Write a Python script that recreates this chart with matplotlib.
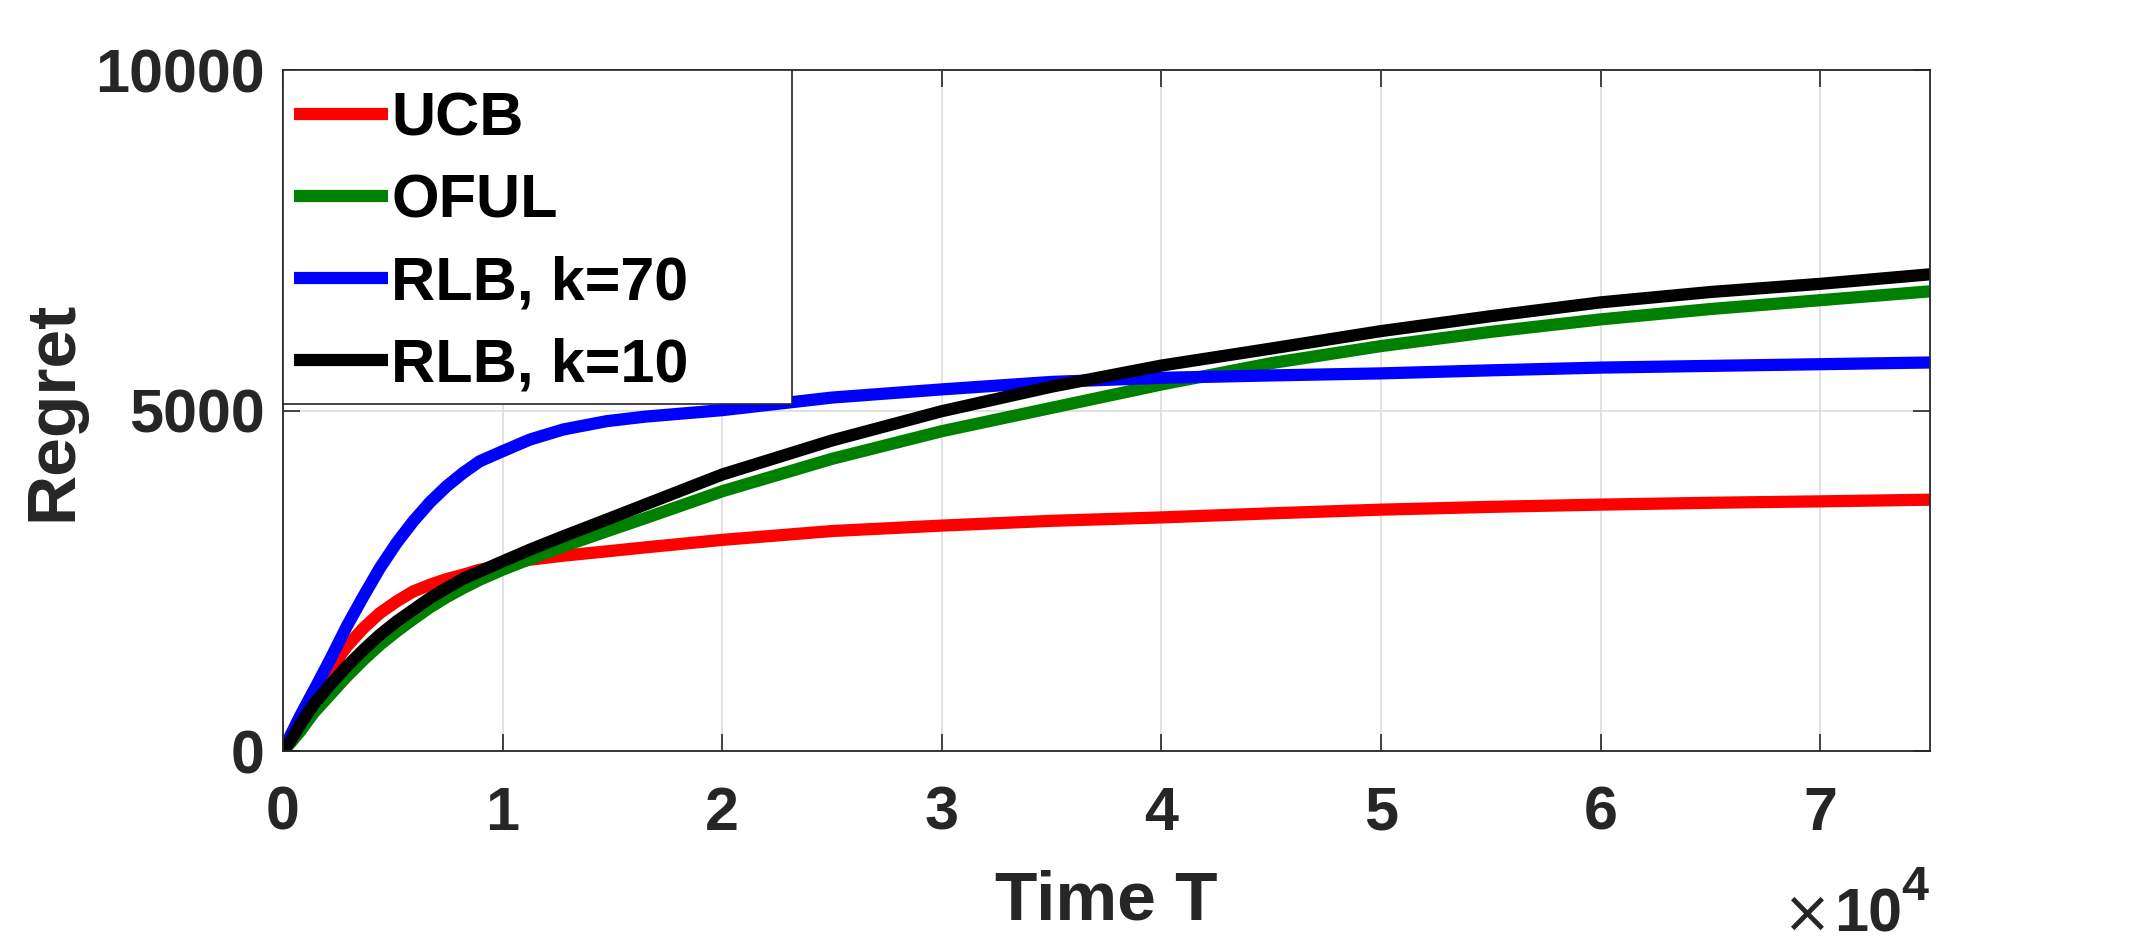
#!/usr/bin/env python3
'''
Regret vs time for UCB, OFUL and RLB (k=70, k=10).
'''

import matplotlib
matplotlib.use("Agg")
import matplotlib.pyplot as plt
from matplotlib.patches import Rectangle
from matplotlib.ticker import FuncFormatter

plt.rcParams['font.family'] = ['Liberation Sans', 'DejaVu Sans']

# time steps (T) and regret
T = [0, 320, 770, 1380, 2140, 2900, 3660, 4410, 5170, 5930, 6690, 7450, 8200,
     8960, 10000, 11240, 12760, 14730, 16500, 20000, 25000, 30000, 35000,
     40000, 45000, 50000, 55000, 60000, 65000, 70000, 75000]
ucb = [0, 210, 500, 872, 1191, 1534, 1804, 2025, 2196, 2343, 2441, 2525, 2588,
       2662, 2721, 2809, 2868, 2931, 2990, 3100, 3230, 3310, 3380, 3430, 3490,
       3544, 3585, 3618, 3645, 3666, 3690]
oful = [0, 110, 284, 554, 824, 1093, 1338, 1559, 1755, 1936, 2108, 2260, 2392,
        2515, 2662, 2819, 3005, 3225, 3420, 3814, 4290, 4696, 5039, 5382,
        5695, 5946, 6155, 6338, 6490, 6620, 6750]
rlb70 = [0, 210, 504, 872, 1338, 1828, 2270, 2686, 3054, 3373, 3652, 3887,
         4083, 4255, 4402, 4573, 4721, 4843, 4910, 5005, 5190, 5310, 5420,
         5480, 5515, 5545, 5590, 5630, 5655, 5680, 5705]
rlb10 = [0, 137, 382, 676, 971, 1240, 1485, 1706, 1902, 2074, 2245, 2392, 2529,
         2637, 2784, 2956, 3152, 3397, 3620, 4060, 4560, 4990, 5350, 5660,
         5910, 6166, 6385, 6588, 6740, 6860, 7000]

labels = ['UCB', 'OFUL', 'RLB, k=70', 'RLB, k=10']
colors = ['#ff0000', '#008000', '#0000ff', '#000000']
dark = '#262626'
fs = 44

fig = plt.figure(figsize=(21.36, 9.46), dpi=100)
ax = fig.add_axes([0.13249, 0.20613, 0.77107, 0.71987])

for y, lab, c in zip([ucb, oful, rlb70, rlb10], labels, colors):
    ax.plot(T, y, color=c, lw=8.8, label=lab,
            solid_capstyle='butt', solid_joinstyle='round')

ax.set_xlim(0, 75000)
ax.set_ylim(0, 10000)
ax.set_xticks(range(0, 75000, 10000))
ax.set_yticks([0, 5000, 10000])
ax.xaxis.set_major_formatter(FuncFormatter(lambda v, p: "%d" % round(v / 1e4)))
ax.grid(True, color='#dcdcdc', lw=1.2)
ax.set_axisbelow(True)

ax.tick_params(direction='in', length=12, width=1.2, colors=dark,
               top=True, right=True, labelsize=fs)
ax.tick_params(axis='x', pad=25)
ax.tick_params(axis='y', pad=13)
for lab in ax.get_xticklabels() + ax.get_yticklabels():
    lab.set_fontweight('bold')
for s in ax.spines.values():
    s.set_color(dark)
    s.set_linewidth(1.3)

ax.set_xlabel('Time T', fontsize=50, fontweight='bold', color=dark, va='baseline')
ax.xaxis.set_label_coords(0.5, -0.2467)
ax.set_ylabel('Regret', fontsize=50, fontweight='bold', color=dark, va='baseline')
ax.yaxis.set_label_coords(-0.1287, 0.5)

# x10^4 multiplier under the x axis, right aligned (offsets in points)
ax.annotate('4', xy=(1, 0), xycoords='axes fraction', xytext=(-1.4, -107.3),
            textcoords='offset points', ha='right', va='baseline',
            fontsize=35, fontweight='bold', color=dark)
ax.annotate('10', xy=(1, 0), xycoords='axes fraction', xytext=(-20, -130.3),
            textcoords='offset points', ha='right', va='baseline',
            fontsize=fs, fontweight='bold', color=dark)
ax.annotate(r'$\times$', xy=(1, 0), xycoords='axes fraction',
            xytext=(-91.4, -118.8), textcoords='offset points',
            ha='center', va='center', fontsize=42, color=dark)

# legend box (MATLAB style, wider than its text)
box = Rectangle((0, 0.5095), 0.309, 0.4905, transform=ax.transAxes,
                facecolor='white', edgecolor=dark, lw=1.2, zorder=4,
                clip_on=False)
ax.add_patch(box)
leg = ax.legend(loc='upper left', bbox_to_anchor=(0, 0.985), frameon=False,
                borderaxespad=0, borderpad=0.18,
                handlelength=1.54, handletextpad=0.05, labelspacing=0.41,
                prop={'weight': 'bold', 'size': fs})
leg.set_zorder(5)

plt.savefig('out.png', dpi=100)
